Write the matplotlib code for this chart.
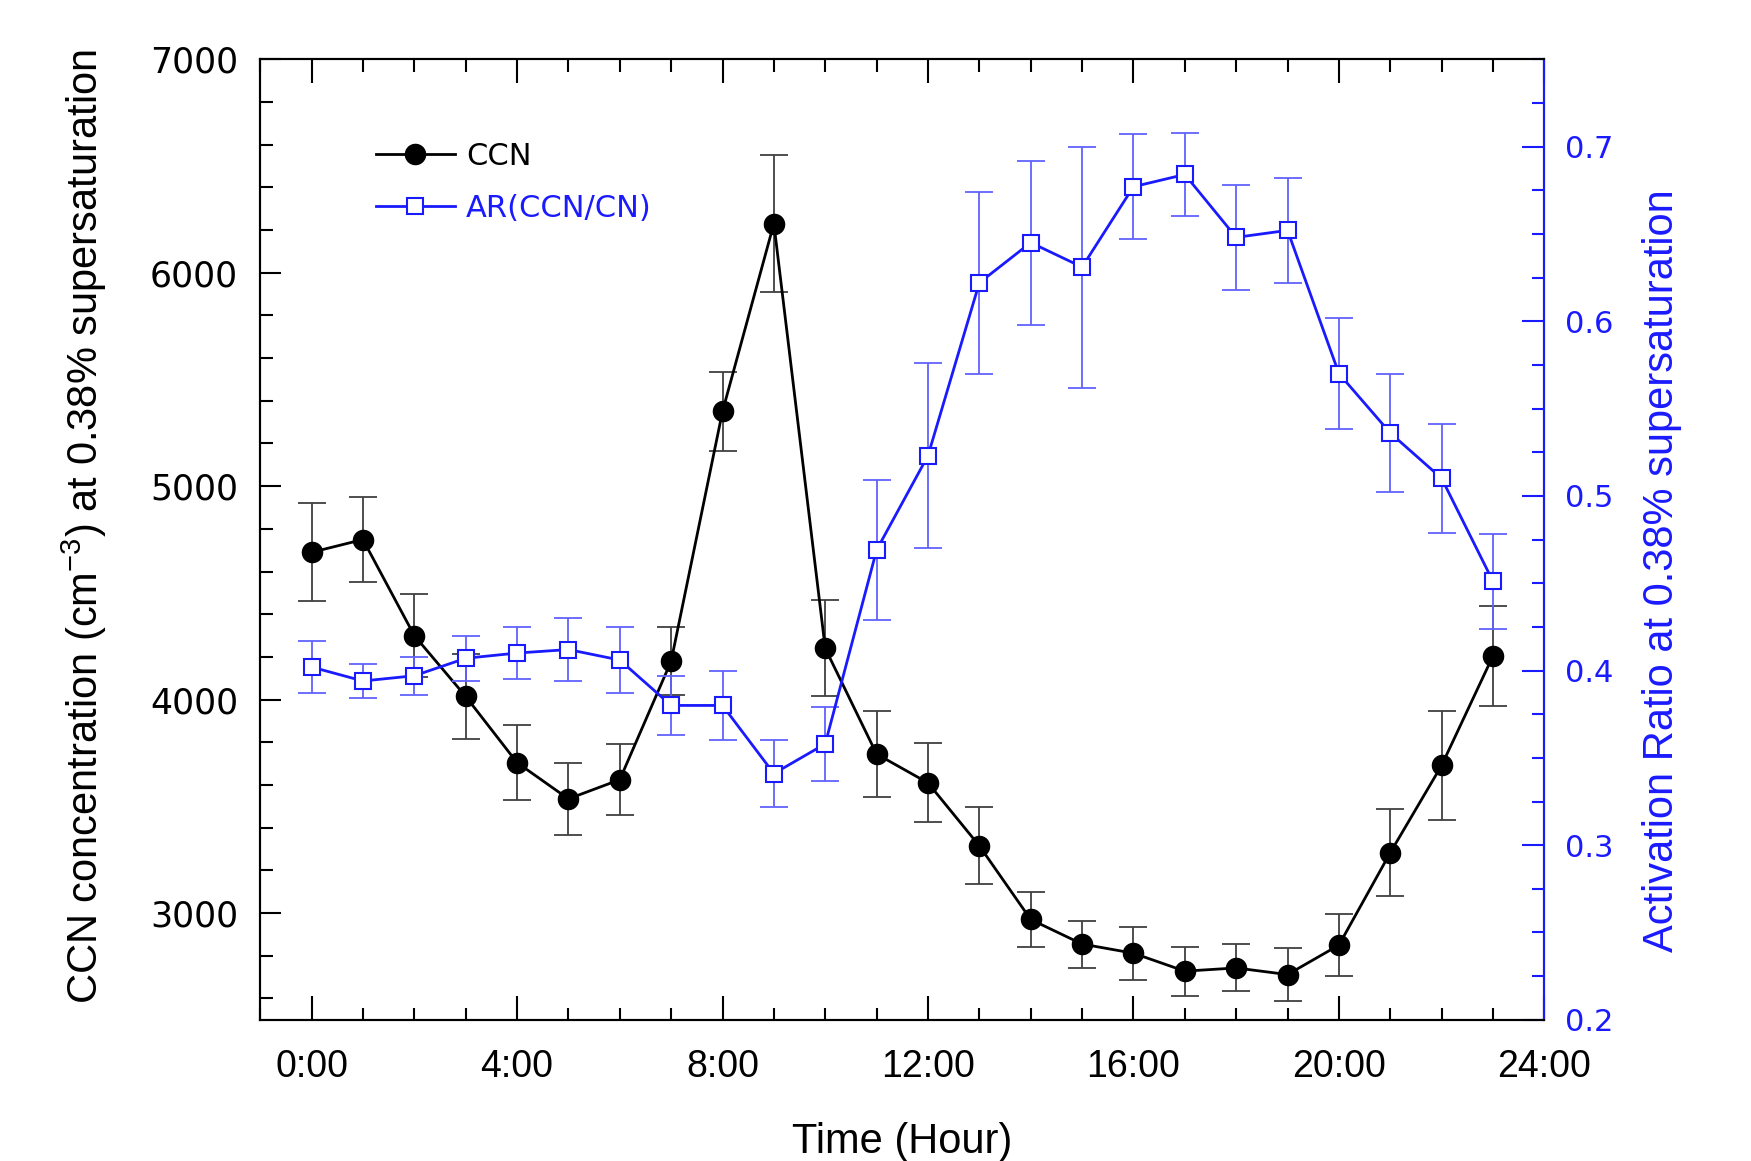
import matplotlib
matplotlib.use("Agg")
import matplotlib.pyplot as plt
from matplotlib.ticker import MultipleLocator, FixedLocator

# diurnal data, hourly
hours = list(range(24))
ccn = [4690, 4750, 4300, 4015, 3705, 3535, 3625, 4180, 5350, 6230, 4240, 3745,
       3610, 3315, 2970, 2855, 2812, 2728, 2743, 2712, 2850, 3283, 3692, 4205]
ccn_err = [230, 200, 195, 200, 175, 170, 165, 160, 185, 320, 225, 200,
           185, 180, 130, 110, 125, 115, 110, 125, 145, 205, 255, 235]
ar = [0.402, 0.394, 0.397, 0.407, 0.410, 0.412, 0.406, 0.380, 0.380, 0.341, 0.358, 0.469,
      0.523, 0.622, 0.645, 0.631, 0.677, 0.684, 0.648, 0.652, 0.570, 0.536, 0.510, 0.451]
ar_err = [0.015, 0.010, 0.011, 0.013, 0.015, 0.018, 0.019, 0.017, 0.020, 0.019, 0.021, 0.040,
          0.053, 0.052, 0.047, 0.069, 0.030, 0.024, 0.030, 0.030, 0.032, 0.034, 0.031, 0.027]
xtick_pos = [0, 4, 8, 12, 16, 20, 24]
xtick_labels = ["0:00", "4:00", "8:00", "12:00", "16:00", "20:00", "24:00"]

BLUE = "#1a1aff"
NARROW = ["Liberation Sans", "DejaVu Sans"]

plt.rcParams["mathtext.fontset"] = "custom"
plt.rcParams["mathtext.rm"] = "Liberation Sans"
plt.rcParams["mathtext.default"] = "regular"

fig = plt.figure(figsize=(17.51, 11.61), dpi=100)
ax = fig.add_axes([0.1486, 0.1216, 0.7334, 0.8274])
ax2 = ax.twinx()

# CCN (left axis)
ax.errorbar(hours, ccn, yerr=ccn_err, fmt="none", ecolor="#404040",
            elinewidth=1.3, capsize=10, capthick=1.3, zorder=2)
l1, = ax.plot(hours, ccn, "-o", color="black", lw=2, ms=14.5, zorder=3, label="CCN")

# activation ratio (right axis)
ax2.errorbar(hours, ar, yerr=ar_err, fmt="none", ecolor="#6262ff",
             elinewidth=1.3, capsize=10, capthick=1.3, zorder=2)
l2, = ax2.plot(hours, ar, "-s", color=BLUE, lw=2, ms=12, mfc="white",
               mec=BLUE, mew=1.5, zorder=3, label="AR(CCN/CN)")

ax.set_xlim(-1, 24)
ax.set_ylim(2500, 7000)
ax2.set_ylim(0.2, 0.75)

ax.xaxis.set_major_locator(FixedLocator(xtick_pos))
ax.set_xticklabels(xtick_labels)
ax.xaxis.set_minor_locator(MultipleLocator(1))
ax.yaxis.set_major_locator(MultipleLocator(1000))
ax.yaxis.set_minor_locator(MultipleLocator(200))
ax2.yaxis.set_major_locator(MultipleLocator(0.1))
ax2.yaxis.set_minor_locator(MultipleLocator(0.025))

ax.tick_params(axis="x", which="both", direction="in", top=True, width=1.5,
               labelsize=27, pad=21)
ax.tick_params(axis="x", which="major", length=17)
ax.tick_params(axis="x", which="minor", length=9)
ax.tick_params(axis="y", which="both", direction="in", width=1.5, labelsize=25, pad=16)
ax.tick_params(axis="y", which="major", length=15)
ax.tick_params(axis="y", which="minor", length=9)
ax2.tick_params(axis="y", which="both", direction="in", width=1.5, color=BLUE,
                labelcolor=BLUE, labelsize=22, pad=15)
ax2.tick_params(axis="y", which="major", length=16)
ax2.tick_params(axis="y", which="minor", length=9)

for lab in ax.get_xticklabels():
    lab.set_family(NARROW)

for sp in ax.spines.values():
    sp.set_linewidth(1.5)
for sp in ax2.spines.values():
    sp.set_linewidth(1.5)
ax2.spines["right"].set_color(BLUE)

ax.set_xlabel("Time (Hour)", fontsize=30, family=NARROW, labelpad=27)
ax.set_ylabel(r"CCN concentration (cm$^{-3}$) at 0.38% supersaturation",
              fontsize=30, family=NARROW)
ax.yaxis.set_label_coords(-0.1174, 0.513)
ax2.set_ylabel("Activation Ratio at 0.38% supersaturation", fontsize=30,
               family=NARROW, color=BLUE)
ax2.yaxis.set_label_coords(1.0757, 0.4674)

leg = ax2.legend(handles=[l1, l2], loc="upper left", bbox_to_anchor=(0.09, 0.914),
                 frameon=False, fontsize=22, handlelength=2.6, handletextpad=0.35,
                 labelspacing=0.75, borderpad=0, borderaxespad=0)
leg.get_texts()[1].set_color(BLUE)

fig.savefig("out.png", dpi=100)
